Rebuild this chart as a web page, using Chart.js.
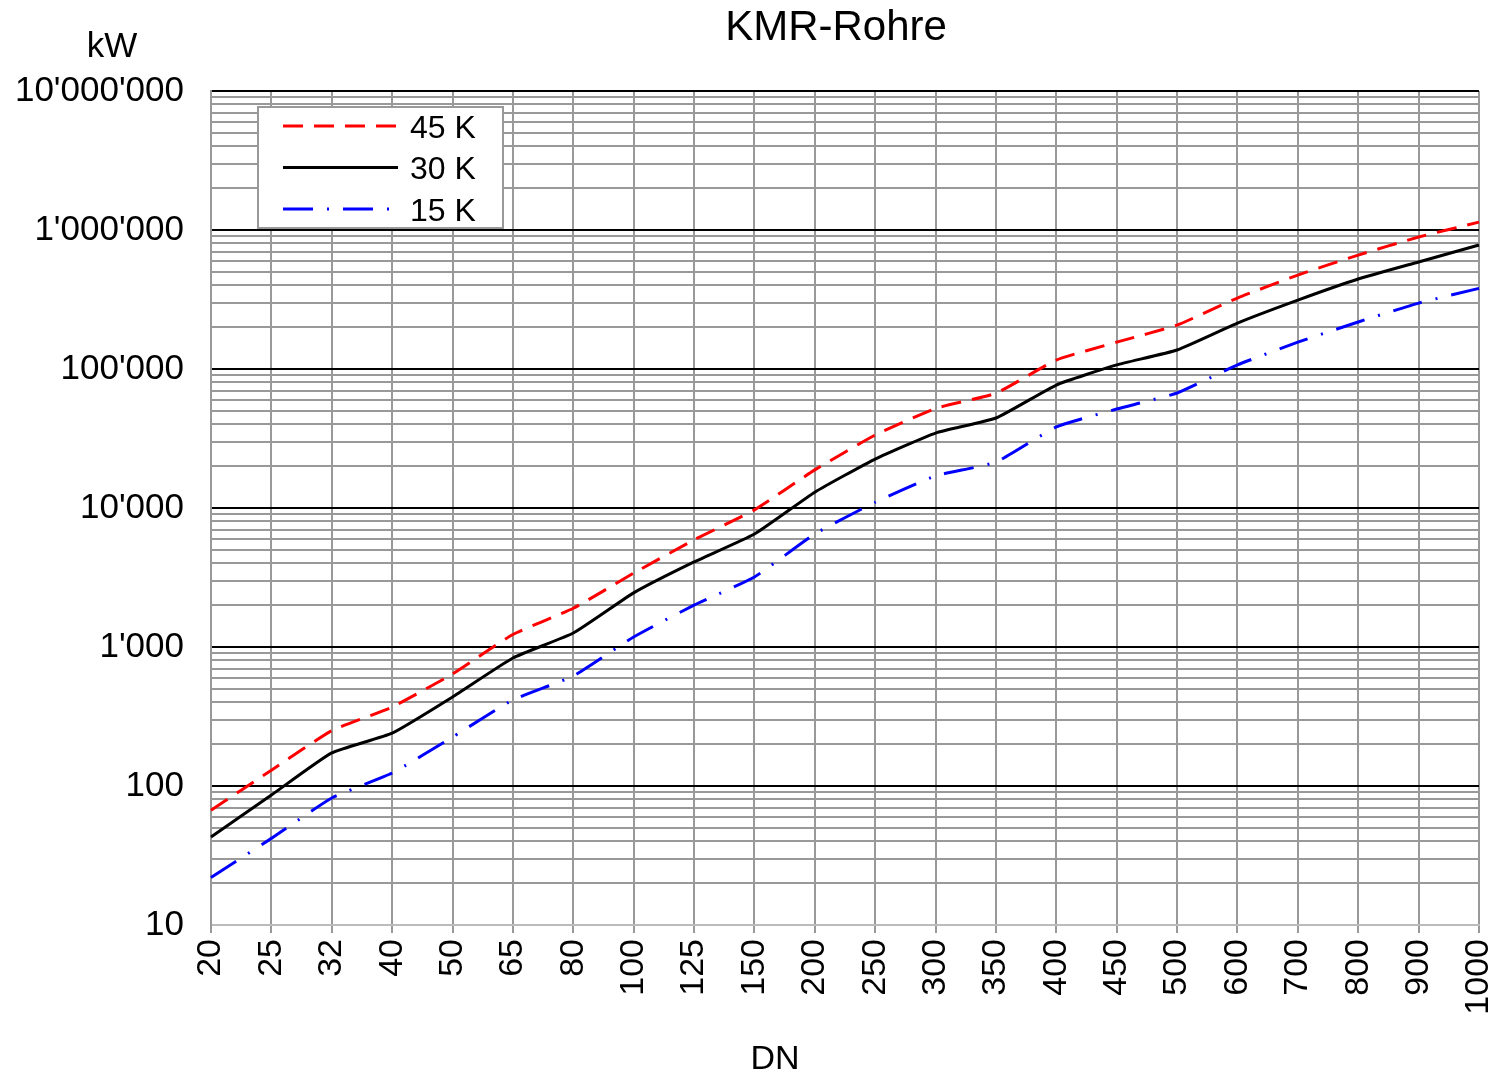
<!DOCTYPE html>
<html>
<head>
  <title>KMR-Rohre</title>
  <script src="https://cdn.jsdelivr.net/npm/chart.js"></script>
</head>
<body style="margin: 0; background: white;">
  <div style="width: 1496px; height: 1075px; position: relative;">
    <canvas id="kmrChart"></canvas>
  </div>
  <script>
    // DN categories and power (kW) per temperature spread
    const dn = ['20', '25', '32', '40', '50', '65', '80', '100', '125', '150', '200',
                '250', '300', '350', '400', '450', '500', '600', '700', '800', '900', '1000'];
    const k45 = [67, 130, 250, 370, 640, 1230, 1900, 3400, 5900, 9700, 18800,
                 33500, 52000, 67000, 116000, 156000, 207000, 324000, 474000, 660000, 890000, 1140000];
    const k30 = [43, 86, 173, 240, 437, 834, 1260, 2450, 4090, 6500, 13000,
                 22500, 34600, 44400, 76700, 107000, 137000, 214000, 313000, 444000, 589000, 780000];
    const k15 = [22, 42, 82, 124, 225, 416, 618, 1180, 2000, 3190, 6500,
                 11000, 17000, 21400, 38300, 51500, 67200, 107000, 156000, 218000, 298000, 380000];

    const yTickValues = [10, 100, 1000, 10000, 100000, 1000000, 10000000];
    const yTickLabels = ['10', '100', "1'000", "10'000", "100'000", "1'000'000", "10'000'000"];
    const minorSteps = [2, 3, 4, 5, 6, 7, 8, 9];

    const FONT = "'Liberation Sans', Arial, sans-serif";

    // all grid values: majors plus 2..9 inside each decade
    const gridValues = [];
    yTickValues.forEach((v, i) => {
      gridValues.push(v);
      if (i < yTickValues.length - 1) minorSteps.forEach(m => gridValues.push(v * m));
    });

    const decor = {
      id: 'decor',
      afterDatasetsDraw(chart) {
        const ctx = chart.ctx;
        const a = chart.chartArea;
        const bx = a.left + 47, by = a.top + 16, bw = 245, bh = 121;
        ctx.save();
        ctx.fillStyle = '#fff';
        ctx.fillRect(bx, by, bw, bh);
        ctx.strokeStyle = '#999';
        ctx.lineWidth = 2;
        ctx.strokeRect(bx, by, bw, bh);
        ctx.font = '32px ' + FONT;
        ctx.textBaseline = 'middle';
        chart.data.datasets.forEach((ds, i) => {
          const y = by + 19 + i * 41.5;
          ctx.strokeStyle = ds.borderColor;
          ctx.lineWidth = ds.borderWidth;
          ctx.setLineDash(ds.borderDash || []);
          ctx.beginPath();
          ctx.moveTo(bx + 25, y);
          ctx.lineTo(bx + 140, y);
          ctx.stroke();
          ctx.fillStyle = '#000';
          ctx.fillText(ds.label, bx + 152, y + 3);
        });
        ctx.restore();
      },
      afterDraw(chart) {
        const ctx = chart.ctx;
        ctx.save();
        ctx.fillStyle = '#000';
        ctx.textAlign = 'center';
        ctx.textBaseline = 'middle';
        ctx.font = '42px ' + FONT;
        ctx.fillText('KMR-Rohre', 836, 28);
        ctx.font = '35px ' + FONT;
        ctx.fillText('kW', 112, 47);
        ctx.font = '34px ' + FONT;
        ctx.fillText('DN', 775, 1060);
        ctx.restore();
      }
    };

    new Chart(document.getElementById('kmrChart'), {
      type: 'line',
      data: {
        labels: dn,
        datasets: [
          { label: '45 K', data: k45, borderColor: '#ff0000', borderWidth: 3, borderDash: [20, 11] },
          { label: '30 K', data: k30, borderColor: '#000000', borderWidth: 3 },
          { label: '15 K', data: k15, borderColor: '#0000ff', borderWidth: 3, borderDash: [30, 14, 2, 14] }
        ]
      },
      options: {
        responsive: true,
        maintainAspectRatio: false,
        animation: false,
        layout: { padding: { top: 91, left: 0, right: 0, bottom: 0 } },
        elements: { point: { radius: 0 }, line: { tension: 0.15 } },
        plugins: { legend: { display: false }, tooltip: { enabled: false } },
        scales: {
          x: {
            type: 'category',
            offset: false,
            grid: { color: '#999', lineWidth: 2, tickLength: 8, offset: false },
            border: { color: '#bbb', width: 2 },
            ticks: {
              color: '#000', font: { family: FONT, size: 34 },
              minRotation: 90, maxRotation: 90, autoSkip: false, padding: 6
            },
            afterFit(scale) {
              scale.height = 150;
              scale.paddingLeft = 0;
              scale.paddingRight = 17;
            }
          },
          y: {
            type: 'logarithmic',
            min: 10,
            max: 10000000,
            afterBuildTicks(scale) {
              scale.ticks = gridValues.map(v => ({ value: v }));
            },
            grid: {
              drawTicks: false,
              lineWidth: 2,
              color: c => {
                const v = c.tick ? c.tick.value : 0;
                if (v === 10) return '#bbb';
                return yTickValues.includes(v) ? '#000' : '#999';
              }
            },
            border: { color: '#999', width: 2 },
            ticks: {
              color: '#000', font: { family: FONT, size: 35 }, padding: 27, autoSkip: false,
              callback: v => {
                const i = yTickValues.indexOf(v);
                return i >= 0 ? yTickLabels[i] : '';
              }
            },
            afterFit(scale) {
              scale.width = 211;
            }
          }
        }
      },
      plugins: [decor]
    });
  </script>
</body>
</html>
